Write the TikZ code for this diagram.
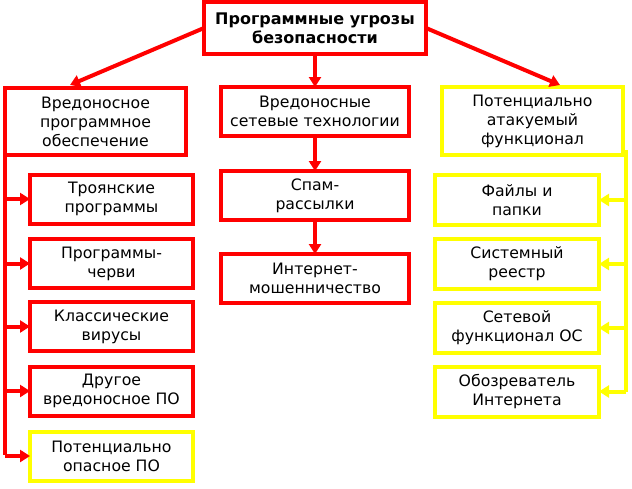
\documentclass[tikz,border=0pt]{standalone}
\usepackage{fontspec}
\setmainfont{DejaVu Sans}
\usetikzlibrary{arrows.meta}
\definecolor{rd}{RGB}{255,0,0}
\definecolor{yl}{RGB}{255,255,0}
\begin{document}
\begin{tikzpicture}[x=1pt,y=-1pt,
  every node/.style={inner sep=0pt,outer sep=0pt,align=center,font=\fontsize{15.7}{19}\selectfont},
  rbox/.style={draw=rd,line width=4pt,fill=white},
  ybox/.style={draw=yl,line width=4pt,fill=white},
  conn/.style={line width=4pt,-{Triangle[length=10pt,width=12pt]}},
  rc/.style={conn,draw=rd,fill=rd},
  yc/.style={conn,draw=yl,fill=yl}]
\useasboundingbox[fill=white] (0,0) rectangle (632,488);
% top
\node[rbox,minimum width=222pt,minimum height=52pt,font=\fontsize{16}{19}\selectfont\bfseries] (top) at (315,28) {Программные угрозы\\безопасности};
% level 1
\node[rbox,minimum width=181pt,minimum height=67pt] (lb) at (95.5,121.5) {Вредоносное\\программное\\обеспечение};
\node[rbox,minimum width=188pt,minimum height=49pt] (mb) at (315,111.5) {Вредоносные\\сетевые технологии};
\node[ybox,minimum width=181pt,minimum height=68pt] (rb) at (532.5,121) {Потенциально\\атакуемый\\функционал};
% left children
\tikzset{lch/.style={minimum width=163pt,minimum height=49pt}}
\node[rbox,lch] (l1) at (111.5,199) {Троянские\\программы};
\node[rbox,lch] (l2) at (111.5,263.5) {Программы-\\черви};
\node[rbox,lch] (l3) at (111.5,326.5) {Классические\\вирусы};
\node[rbox,lch] (l4) at (111.5,391) {Другое\\вредоносное ПО};
\node[ybox,lch] (l5) at (111.5,456) {Потенциально\\опасное ПО};
% middle children
\node[rbox,minimum width=188pt,minimum height=49pt] (m1) at (315,195.5) {Спам-\\рассылки};
\node[rbox,minimum width=188pt,minimum height=49pt] (m2) at (315,278.5) {Интернет-\\мошенничество};
% right children
\tikzset{rch/.style={minimum width=164pt,minimum height=50pt}}
\node[ybox,rch] (r1) at (517,200) {Файлы и\\папки};
\node[ybox,rch] (r2) at (517,264) {Системный\\реестр};
\node[ybox,rch] (r3) at (517,328) {Сетевой\\функционал ОС};
\node[ybox,rch] (r4) at (517,391.5) {Обозреватель\\Интернета};
% top arrows
\coordinate (lt) at (70,85);
\coordinate (rt) at (560,85);
\draw[rc] (top.west) -- (lt);
\draw[rc] (top.south) -- (mb.north);
\draw[rc] (top.east) -- (rt);
% middle chain
\draw[rc] (mb.south) -- (m1.north);
\draw[rc] (m1.south) -- (m2.north);
% left spine
\coordinate (ls) at (5,150);
\coordinate (le) at (5,455);
\draw[rd,line width=4pt] (ls) -- (le);
\foreach \c in {l1,l2,l3,l4,l5} \draw[rc] (ls |- \c.west) -- (\c.west);
% right spine
\coordinate (rs) at (626,150);
\coordinate (re) at (626,392);
\draw[yl,line width=4pt] (rs) -- (re);
\foreach \c in {r1,r2,r3,r4} \draw[yc] (rs |- \c.east) -- (\c.east);
\end{tikzpicture}
\end{document}
